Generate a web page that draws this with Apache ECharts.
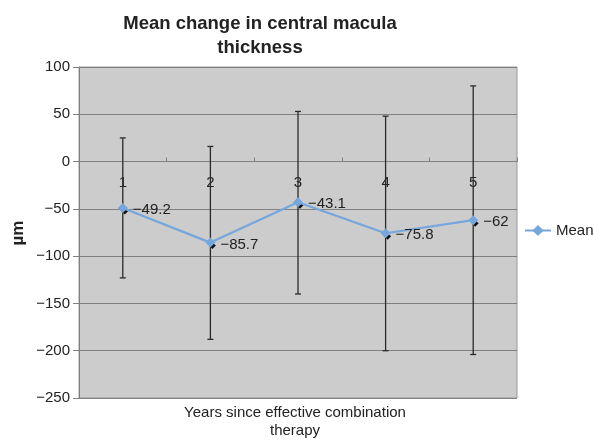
<!DOCTYPE html>
<html><head><meta charset="utf-8">
<script src="https://cdn.jsdelivr.net/npm/echarts@6/dist/echarts.min.js"></script>
<style>html,body{margin:0;padding:0;background:#fff}#c{width:594px;height:443px}</style>
</head><body><div id="c"></div><script>
const categories = ['1', '2', '3', '4', '5'];
const meanValues = [-49.2, -85.7, -43.1, -75.8, -62];
const errorHigh = [25, 16, 53, 48, 80];
const errorLow = [-123, -188, -140, -200, -204];
const yMin = -250, yMax = 100, yStep = 50;
const titleLines = ['Mean change in central macula', 'thickness'];
const xName = ['Years since effective combination', 'therapy'];
const yName = 'µm';

const FONT = '"Liberation Sans", Arial, sans-serif';
const fmt = v => String(v).replace('-', '\u2212');

const errData = categories.map((c, i) => [i, errorLow[i], errorHigh[i], meanValues[i]]);
const catLabelData = categories.map((c, i) => [i, 0, c]);

const chart = echarts.init(document.getElementById('c'), null, {renderer: 'canvas'});
chart.setOption({
  animation: false,
  backgroundColor: '#ffffff',
  textStyle: {fontFamily: FONT},
  graphic: [
    {type: 'text', x: 260, y: 24, style: {text: titleLines[0], font: 'bold 18.5px ' + FONT, fill: '#222', align: 'center', verticalAlign: 'middle'}},
    {type: 'text', x: 260, y: 48, style: {text: titleLines[1], font: 'bold 18.5px ' + FONT, fill: '#222', align: 'center', verticalAlign: 'middle'}},
    {type: 'text', x: 295, y: 413, style: {text: xName[0], font: '15px ' + FONT, fill: '#222', align: 'center', verticalAlign: 'middle'}},
    {type: 'text', x: 295, y: 431, style: {text: xName[1], font: '15px ' + FONT, fill: '#222', align: 'center', verticalAlign: 'middle'}},
    {type: 'text', x: 18, y: 233, rotation: Math.PI / 2, style: {text: yName, font: 'bold 17px ' + FONT, fill: '#222', align: 'center', verticalAlign: 'middle'}}
  ],
  legend: {
    left: 524, top: 223, padding: 0, itemWidth: 26, itemHeight: 14, itemGap: 5,
    data: ['Mean'],
    textStyle: {fontSize: 15, color: '#222', fontFamily: FONT}
  },
  grid: {left: 79, right: 77, top: 67, bottom: 45, show: true, backgroundColor: '#cccccc', borderColor: '#999', borderWidth: 1},
  xAxis: {
    type: 'category', data: categories, boundaryGap: true,
    axisLine: {onZero: true, lineStyle: {color: '#808080', width: 1}},
    axisTick: {show: true, inside: true, length: 4, lineStyle: {color: '#808080'}},
    axisLabel: {show: false},
    splitLine: {show: false}
  },
  yAxis: {
    type: 'value', min: yMin, max: yMax, interval: yStep,
    axisLine: {show: true, lineStyle: {color: '#808080'}},
    axisTick: {show: true, length: 6, lineStyle: {color: '#808080'}},
    axisLabel: {fontSize: 15, color: '#222', margin: 9, formatter: v => fmt(v), fontFamily: FONT},
    splitLine: {show: true, lineStyle: {color: '#808080', width: 1}}
  },
  series: [
    {
      type: 'custom', name: 'catLabels', z: 1, silent: true,
      data: catLabelData,
      encode: {x: 0, y: 1},
      renderItem: (params, api) => {
        const p = api.coord([api.value(0), api.value(1)]);
        return {type: 'text', x: p[0], y: p[1] + 21, style: {text: categories[params.dataIndex], font: '15px ' + FONT, fill: '#222', align: 'center', verticalAlign: 'middle'}};
      }
    },
    {
      type: 'custom', name: 'err', z: 2, silent: true,
      data: errData,
      encode: {x: 0, y: [1, 2]},
      renderItem: (params, api) => {
        const x = api.value(0);
        const lo = api.coord([x, api.value(1)]);
        const hi = api.coord([x, api.value(2)]);
        const m = api.coord([x, api.value(3)]);
        const cap = 3;
        const ls = {stroke: '#2a2a2a', lineWidth: 1.3};
        return {type: 'group', children: [
          {type: 'line', shape: {x1: lo[0], y1: lo[1], x2: hi[0], y2: hi[1]}, style: ls},
          {type: 'line', shape: {x1: lo[0] - cap, y1: lo[1], x2: lo[0] + cap, y2: lo[1]}, style: ls},
          {type: 'line', shape: {x1: hi[0] - cap, y1: hi[1], x2: hi[0] + cap, y2: hi[1]}, style: ls},
          {type: 'polygon', shape: {points: [[m[0] + 2, m[1] + 0], [m[0] + 5.5, m[1] + 3], [m[0] + 2, m[1] + 6.5], [m[0] - 1.5, m[1] + 3]]}, style: {fill: '#111'}}
        ]};
      }
    },
    {
      type: 'line', name: 'Mean', z: 3,
      data: meanValues,
      symbol: 'diamond', symbolSize: 10,
      lineStyle: {color: '#76a7dc', width: 2.2},
      itemStyle: {color: '#76a7dc'},
      label: {show: true, position: 'right', distance: 5, fontSize: 15, color: '#222', fontFamily: FONT, formatter: p => fmt(p.value), offset: [0, 2]}
    }
  ]
});
</script></body></html>
